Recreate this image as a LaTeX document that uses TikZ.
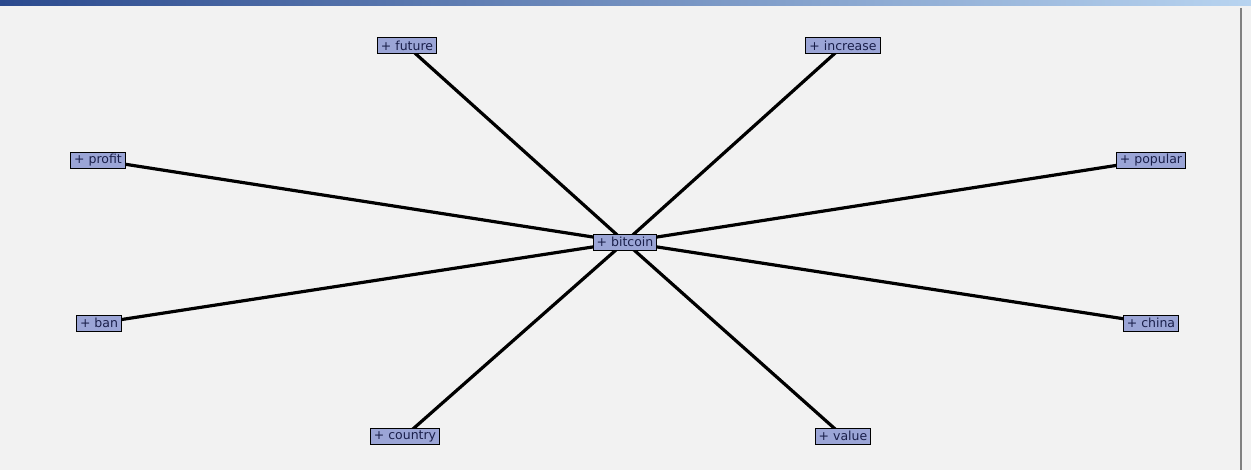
\documentclass[tikz,border=0pt]{standalone}
\usepackage{fontspec}
\setmainfont{DejaVu Sans}
\usetikzlibrary{backgrounds}
\definecolor{fond}{HTML}{F2F2F2}
\definecolor{mot}{HTML}{9BA5D6}
\definecolor{encre}{HTML}{1A1F4A}
\definecolor{barreA}{HTML}{2B4A8E}
\definecolor{barreB}{HTML}{B8D4F0}
\tikzset{
	mot/.style={draw=black, fill=mot, text=encre, font=\fontsize{12.5}{13}\selectfont, inner xsep=3.5pt, inner ysep=1pt, minimum height=16pt, line width=1pt},
	lien/.style={line width=3.2pt, black}
}
\begin{document}
\begin{tikzpicture}[x=1pt, y=-1pt]
		%Noeuds du graphe
		\node[mot] (bitcoin) at (625,242) {+ bitcoin};
		\node[mot] (future) at (407,46) {+ future};
		\node[mot] (increase) at (843,46) {+ increase};
		\node[mot] (profit) at (98,160) {+ profit};
		\node[mot] (popular) at (1151,160) {+ popular};
		\node[mot] (ban) at (99,323) {+ ban};
		\node[mot] (china) at (1151,323) {+ china};
		\node[mot] (country) at (405,436) {+ country};
		\node[mot] (value) at (843,436) {+ value};
		%Fond de la fenetre et aretes
		\begin{scope}[on background layer]
		\fill[fond] (0,0) rectangle (1251,470);
		\shade[left color=barreA, right color=barreB] (0,0) rectangle (1251,6);
		\draw[gray, line width=1.5pt] (1241,8) -- (1241,470);
		\draw[lien] (bitcoin.center) -- (future.center);
		\draw[lien] (bitcoin.center) -- (increase.center);
		\draw[lien] (bitcoin.center) -- (profit.center);
		\draw[lien] (bitcoin.center) -- (popular.center);
		\draw[lien] (bitcoin.center) -- (ban.center);
		\draw[lien] (bitcoin.center) -- (china.center);
		\draw[lien] (bitcoin.center) -- (country.center);
		\draw[lien] (bitcoin.center) -- (value.center);
		\end{scope}
		\useasboundingbox (0,0) rectangle (1251,470);
	\end{tikzpicture}
\end{document}
